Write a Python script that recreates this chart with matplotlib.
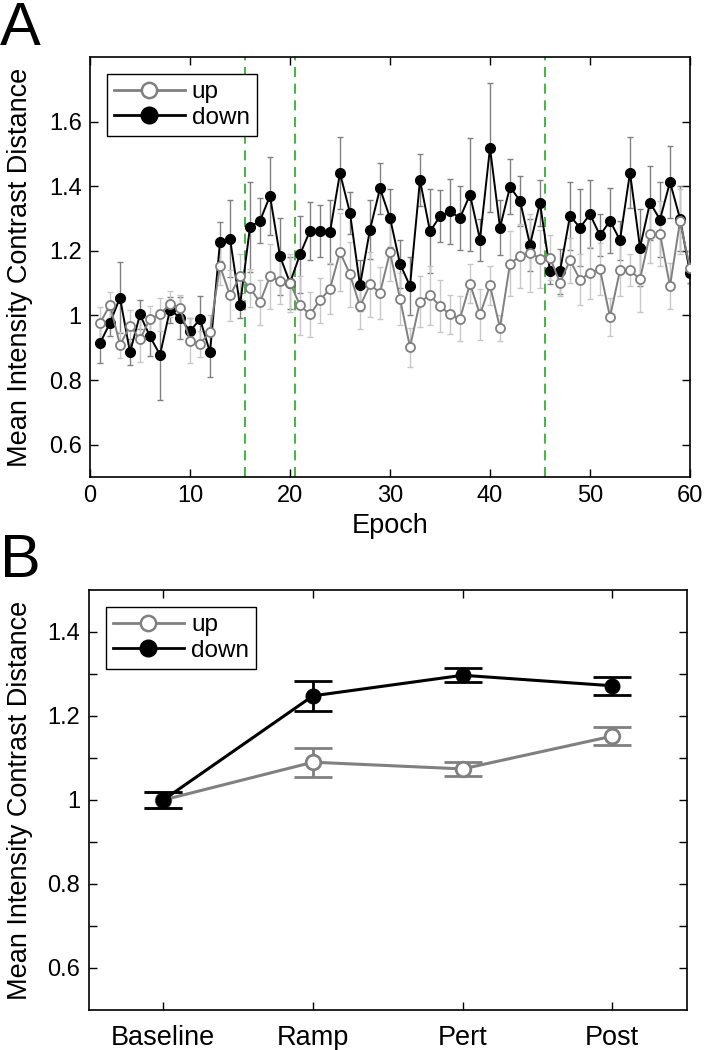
import numpy as np
import matplotlib
matplotlib.use("Agg")
import matplotlib.pyplot as plt
from matplotlib.ticker import FixedLocator, FixedFormatter

plt.rcParams['font.family'] = ['Liberation Sans', 'DejaVu Sans']

# ---------------- data: panel A ----------------
epochs = list(range(1, 61))
up_mean = [0.976, 1.033, 0.909, 0.968, 0.926, 0.990, 1.003, 1.036, 1.023, 0.922,
           0.912, 0.950, 1.153, 1.062, 1.121, 1.085, 1.041, 1.121, 1.106, 1.101,
           1.031, 1.003, 1.047, 1.083, 1.196, 1.127, 1.028, 1.096, 1.070, 1.196,
           1.052, 0.902, 1.043, 1.062, 1.029, 1.003, 0.990, 1.098, 1.003, 1.093,
           0.961, 1.160, 1.184, 1.194, 1.176, 1.179, 1.101, 1.171, 1.111, 1.132,
           1.143, 0.995, 1.140, 1.140, 1.112, 1.251, 1.253, 1.091, 1.291, 1.148]
up_err = [0.05, 0.04, 0.04, 0.05, 0.07, 0.04, 0.05, 0.04, 0.04, 0.07,
          0.04, 0.05, 0.06, 0.08, 0.07, 0.06, 0.07, 0.10, 0.07, 0.09,
          0.09, 0.07, 0.07, 0.08, 0.12, 0.10, 0.07, 0.10, 0.08, 0.09,
          0.08, 0.06, 0.08, 0.09, 0.08, 0.06, 0.07, 0.06, 0.08, 0.06,
          0.04, 0.10, 0.10, 0.12, 0.09, 0.07, 0.04, 0.07, 0.08, 0.08,
          0.08, 0.06, 0.08, 0.05, 0.10, 0.09, 0.10, 0.07, 0.10, 0.05]
down_mean = [0.914, 0.977, 1.055, 0.886, 1.003, 0.935, 0.878, 1.018, 0.993, 0.951,
             0.989, 0.886, 1.228, 1.238, 1.031, 1.274, 1.293, 1.370, 1.183, 1.101,
             1.189, 1.262, 1.262, 1.258, 1.441, 1.317, 1.093, 1.266, 1.393, 1.302,
             1.160, 1.091, 1.419, 1.260, 1.307, 1.322, 1.302, 1.374, 1.235, 1.519,
             1.272, 1.398, 1.355, 1.219, 1.348, 1.137, 1.137, 1.308, 1.272, 1.313,
             1.248, 1.293, 1.233, 1.442, 1.210, 1.349, 1.297, 1.413, 1.300, 1.132]
down_err = [0.06, 0.04, 0.11, 0.04, 0.045, 0.06, 0.14, 0.04, 0.065, 0.04,
            0.07, 0.075, 0.06, 0.12, 0.04, 0.14, 0.07, 0.12, 0.12, 0.08,
            0.12, 0.09, 0.08, 0.10, 0.11, 0.065, 0.08, 0.09, 0.08, 0.09,
            0.075, 0.09, 0.08, 0.13, 0.08, 0.10, 0.10, 0.175, 0.065, 0.20,
            0.085, 0.085, 0.077, 0.08, 0.07, 0.04, 0.07, 0.105, 0.12, 0.105,
            0.065, 0.10, 0.06, 0.11, 0.12, 0.115, 0.115, 0.11, 0.10, 0.03]
phase_bounds = [15.5, 20.5, 45.5]
a_xticks = [0, 10, 20, 30, 40, 50, 60]
a_yticks = [0.6, 0.8, 1.0, 1.2, 1.4, 1.6]
a_yticklabels = ['0.6', '0.8', '1', '1.2', '1.4', '1.6']

# ---------------- data: panel B ----------------
conditions = ['Baseline', 'Ramp', 'Pert', 'Post']
up_B = [1.000, 1.090, 1.074, 1.152]
up_B_err = [0.020, 0.035, 0.017, 0.022]
down_B = [1.000, 1.248, 1.297, 1.272]
down_B_err = [0.020, 0.035, 0.017, 0.021]
b_yticks = [0.6, 0.7, 0.8, 0.9, 1.0, 1.1, 1.2, 1.3, 1.4]
b_yticklabels = ['0.6', '', '0.8', '', '1', '', '1.2', '', '1.4']

GRAY = '#808080'
LIGHT = '#c8c8c8'
GREEN = '#22aa22'
TICK_FS = 17
XLABEL_FS = 19.5
YLABEL_FS = 19.5
LEG_FS = 17.5

fig = plt.figure(figsize=(7.04, 10.5), dpi=100)

W, H = 704.0, 1050.0
axA = fig.add_axes([90 / W, 1 - 477 / H, 600 / W, 420 / H])
axB = fig.add_axes([88.5 / W, 1 - 1010 / H, 598.5 / W, 420 / H])

def style(ax):
    ax.tick_params(direction='in', top=True, right=True, length=6, width=1,
                   labelsize=TICK_FS, pad=6)
    for s in ax.spines.values():
        s.set_linewidth(1.2)

def legend(ax, x0):
    hu, = ax.plot([], [], '-o', color=GRAY, lw=2, ms=11, mfc='white', mec=GRAY, mew=1.8)
    hd, = ax.plot([], [], '-o', color='black', lw=2, ms=12, mfc='black', mec='black')
    leg = ax.legend([hu, hd], ['up', 'down'], loc='upper left',
                    bbox_to_anchor=(x0, 0.96), borderaxespad=0, fontsize=LEG_FS,
                    fancybox=False, framealpha=1, edgecolor='black',
                    handlelength=2.9, handletextpad=0.3, borderpad=0.3,
                    labelspacing=0.15)
    leg.get_frame().set_linewidth(1.0)

# ---- Panel A ----
for xb in phase_bounds:
    axA.axvline(xb, color=GREEN, lw=1.2, dashes=(6, 4), zorder=1)

axA.errorbar(epochs, down_mean, yerr=down_err, fmt='none', ecolor=GRAY,
             elinewidth=1, capsize=2.5, capthick=1, zorder=2)
axA.errorbar(epochs, up_mean, yerr=up_err, fmt='none', ecolor=LIGHT,
             elinewidth=1, capsize=2.5, capthick=1, zorder=2)
axA.plot(epochs, down_mean, '-o', color='black', lw=1.4, ms=7,
         mfc='black', mec='black', zorder=3)
axA.plot(epochs, up_mean, '-o', color=GRAY, lw=1.4, ms=6.5,
         mfc='white', mec=GRAY, mew=1.3, zorder=4)

axA.set_xlim(0, 60)
axA.set_ylim(0.5, 1.8)
axA.xaxis.set_major_locator(FixedLocator(a_xticks))
axA.yaxis.set_major_locator(FixedLocator(a_yticks))
axA.yaxis.set_major_formatter(FixedFormatter(a_yticklabels))
style(axA)
axA.set_xlabel('Epoch', fontsize=XLABEL_FS, labelpad=4)
axA.set_ylabel('Mean Intensity Contrast Distance', fontsize=YLABEL_FS)
axA.yaxis.set_label_coords(-0.095, 0.5)
legend(axA, 0.028)

# ---- Panel B ----
xB = list(range(1, len(conditions) + 1))
axB.errorbar(xB, up_B, yerr=up_B_err, fmt='-o', color=GRAY, lw=2.2, ms=10.5,
             mfc='white', mec=GRAY, mew=2, ecolor=GRAY, elinewidth=2,
             capsize=14, capthick=2, zorder=3)
axB.errorbar(xB, down_B, yerr=down_B_err, fmt='-o', color='black', lw=2.2, ms=10.5,
             mfc='black', mec='black', ecolor='black', elinewidth=2,
             capsize=14, capthick=2, zorder=4)
axB.set_xlim(0.5, 4.5)
axB.set_ylim(0.5, 1.5)
axB.set_xticks(xB)
axB.set_xticklabels(conditions)
axB.yaxis.set_major_locator(FixedLocator(b_yticks))
axB.yaxis.set_major_formatter(FixedFormatter(b_yticklabels))
style(axB)
axB.tick_params(axis='x', labelsize=XLABEL_FS, pad=11)
axB.set_ylabel('Mean Intensity Contrast Distance', fontsize=YLABEL_FS)
axB.yaxis.set_label_coords(-0.093, 0.5)
legend(axB, 0.029)

# panel letters
fig.text(0.0, 1 - 45 / H, 'A', fontsize=44, ha='left', va='baseline')
fig.text(0.0, 1 - 577 / H, 'B', fontsize=44, ha='left', va='baseline')

fig.savefig('out.png', dpi=100)
